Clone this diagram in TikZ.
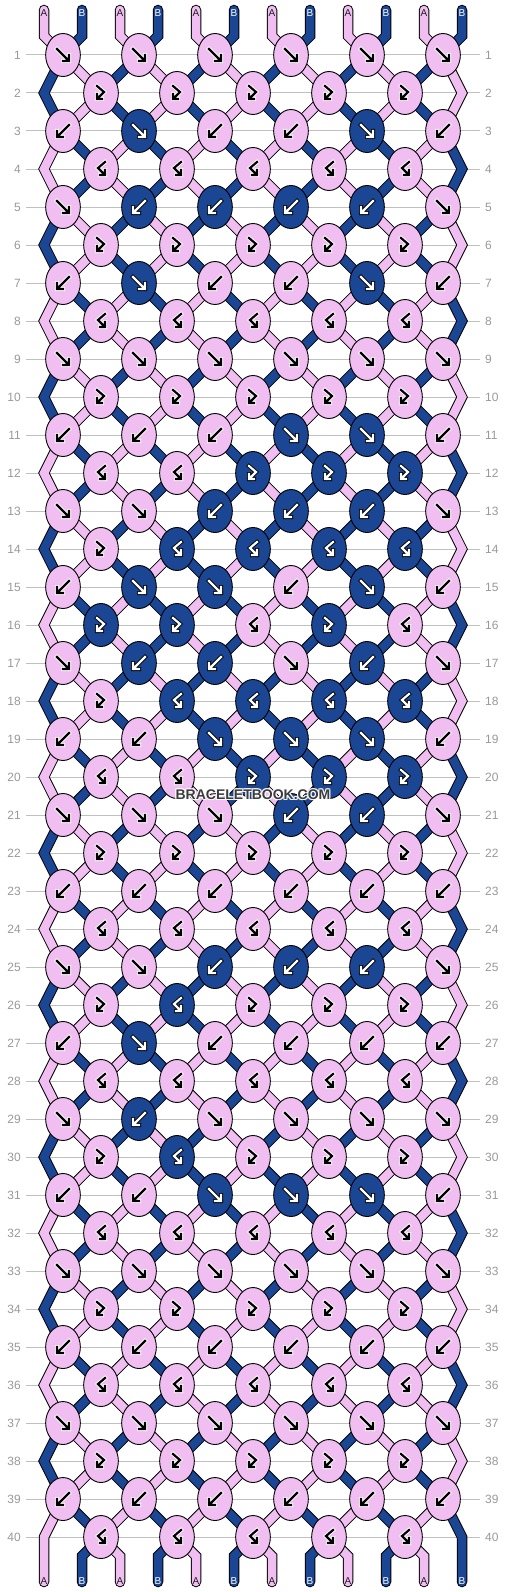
\documentclass[tikz,border=0pt]{standalone}
\usepackage{fontspec}
\setmainfont{Liberation Sans}
\usetikzlibrary{shapes.geometric}
\definecolor{pk}{HTML}{F0BEF0}
\definecolor{bl}{HTML}{1B4694}
\definecolor{gridc}{HTML}{C0C0C0}
\definecolor{numc}{HTML}{999999}
\definecolor{wmc}{HTML}{3C3C3C}
\definecolor{labc}{HTML}{202020}
\pgfdeclarelayer{gridlayer}
\pgfdeclarelayer{strlayer}
\pgfsetlayers{gridlayer,strlayer,main}
\tikzset{
  knot/.style={ellipse, draw=black, line width=0.9pt, minimum width=34.7pt, minimum height=43pt, inner sep=0pt},
  str/.style={line width=1pt, double distance=8.5pt, line join=miter, line cap=round},
  glyphhalo/.style={draw=#1, line width=4pt, line cap=rect, line join=miter},
  glyphmain/.style={draw=#1, line width=2.2pt, line cap=rect, line join=miter},
  rownum/.style={text=numc, font=\fontsize{12}{14}\selectfont, inner sep=0pt},
  taillabel/.style={font=\fontsize{10}{12}\selectfont, inner sep=0pt},
  wmark/.style={font=\bfseries\fontsize{14}{16}\selectfont, inner sep=0pt}
}
\def\parsecode#1#2\relax{\def\ktype{#1}\def\kcol{#2}}
\newcommand\gdraw[2]{%
  \if f#1\draw[#2] (-6,-6)--(5.5,5.5) (0,6)--(6,6)--(6,0);\fi
  \if b#1\draw[#2] (6,-6)--(-5.5,5.5) (0,6)--(-6,6)--(-6,0);\fi
  \if x#1\draw[#2] (-4,-7)--(3,-1)--(-3.5,5.5) (1,6)--(-4,6)--(-4,1);\fi
  \if y#1\draw[#2] (4,-7)--(-3,-1)--(3.5,5.5) (-1,6)--(4,6)--(4,1);\fi}
\begin{document}
\begin{tikzpicture}[x=1pt,y=-1pt]
\useasboundingbox (0,0) rectangle (506,1592);
\begin{pgfonlayer}{gridlayer}
\fill[white] (0,0) rectangle (506,1592);
\foreach \r in {1,...,40}{
  \pgfmathsetmacro\ry{55+38*(\r-1)}
  \draw[gridc, line width=1pt] (26,\ry) -- (480,\ry);
  \node[rownum, anchor=east] (ln-\r) at (21,\ry) {\r};
  \node[rownum, anchor=west] (rn-\r) at (485,\ry) {\r};
}
\end{pgfonlayer}
% knots
\foreach \r/\codes in {
1/{fp,fp,fp,fp,fp,fp},
2/{xp,xp,xp,xp,xp},
3/{bp,fd,bp,bp,fd,bp},
4/{yp,yp,yp,yp,yp},
5/{fp,bd,bd,bd,bd,fp},
6/{xp,xp,xp,xp,xp},
7/{bp,fd,bp,bp,fd,bp},
8/{yp,yp,yp,yp,yp},
9/{fp,fp,fp,fp,fp,fp},
10/{xp,xp,xp,xp,xp},
11/{bp,bp,bp,fd,fd,bp},
12/{yp,yp,xd,xd,xd},
13/{fp,fp,bd,bd,bd,fp},
14/{xp,yd,yd,yd,yd},
15/{bp,fd,fd,bp,fd,bp},
16/{xd,xd,yp,xd,yp},
17/{fp,bd,bd,fp,bd,fp},
18/{xp,yd,yd,yd,yd},
19/{bp,bp,fd,fd,fd,bp},
20/{yp,yp,xd,xd,xd},
21/{fp,fp,fp,bd,bd,fp},
22/{xp,xp,xp,xp,xp},
23/{bp,bp,bp,bp,bp,bp},
24/{yp,yp,yp,yp,yp},
25/{fp,fp,bd,bd,bd,fp},
26/{xp,yd,xp,xp,xp},
27/{bp,fd,bp,bp,bp,bp},
28/{yp,yp,yp,yp,yp},
29/{fp,bd,fp,fp,fp,fp},
30/{xp,yd,xp,xp,xp},
31/{bp,bp,fd,fd,fd,bp},
32/{yp,yp,yp,yp,yp},
33/{fp,fp,fp,fp,fp,fp},
34/{xp,xp,xp,xp,xp},
35/{bp,bp,bp,bp,bp,bp},
36/{yp,yp,yp,yp,yp},
37/{fp,fp,fp,fp,fp,fp},
38/{xp,xp,xp,xp,xp},
39/{bp,bp,bp,bp,bp,bp},
40/{yp,yp,yp,yp,yp}}{
  \pgfmathtruncatemacro\rodd{mod(\r,2)}
  \pgfmathsetmacro\ky{55+38*(\r-1)}
  \foreach \c [count=\j from 0] in \codes {
    \expandafter\parsecode\c\relax
    \ifnum\rodd=1 \pgfmathsetmacro\kx{63+76*\j}\else\pgfmathsetmacro\kx{101+76*\j}\fi
    \if p\kcol \def\kf{pk}\def\km{black}\def\kh{white}\else\def\kf{bl}\def\km{white}\def\kh{black}\fi
    \node[knot, fill=\kf] (k-\r-\j) at (\kx,\ky) {};
    \begin{scope}[shift={(k-\r-\j.center)}]
      \gdraw{\ktype}{glyphhalo=\kh}
      \gdraw{\ktype}{glyphmain=\km}
    \end{scope}
  }
}
% edge bend points
\foreach \r in {2,4,...,40}{
  \pgfmathsetmacro\ky{55+38*(\r-1)}
  \coordinate (e-\r-L) at (44,\ky);
  \coordinate (e-\r-R) at (462,\ky);
}
% tail points
\foreach \p in {0,...,11}{
  \pgfmathsetmacro\tx{44+38*\p}
  \coordinate (tt-\p) at (\tx,10);
  \coordinate (tb-\p) at (\tx,36);
  \coordinate (bt-\p) at (\tx,1582);
  \coordinate (bb-\p) at (\tx,1556);
}
\begin{pgfonlayer}{strlayer}
\foreach \r in {1,...,39}{
  \pgfmathtruncatemacro\rn{\r+1}
  \pgfmathtruncatemacro\kpar{(\r+1)/2}
  \pgfmathtruncatemacro\rodd{mod(\r,2)}
  \foreach \p in {1,...,10}{
    \ifnum\rodd=1
      \pgfmathtruncatemacro\ja{floor(\p/2)}\pgfmathtruncatemacro\jb{floor((\p-1)/2)}
    \else
      \pgfmathtruncatemacro\ja{floor((\p-1)/2)}\pgfmathtruncatemacro\jb{floor(\p/2)}
    \fi
    \pgfmathtruncatemacro\cc{mod(\p+\kpar,2)}
    \ifnum\cc=0 \def\sc{pk}\else\def\sc{bl}\fi
    \draw[str, double=\sc] (k-\r-\ja.center) -- (k-\rn-\jb.center);
  }
}
\foreach \r in {1,3,...,37}{
  \pgfmathtruncatemacro\rn{\r+1}
  \pgfmathtruncatemacro\rnn{\r+2}
  \pgfmathtruncatemacro\kpar{(\r+1)/2}
  \pgfmathtruncatemacro\cc{mod(\kpar,2)}
  \ifnum\cc=0 \def\sa{pk}\def\sb{bl}\else\def\sa{bl}\def\sb{pk}\fi
  \draw[str, double=\sa] (k-\r-0.center) -- (e-\rn-L) -- (k-\rnn-0.center);
  \draw[str, double=\sb] (k-\r-5.center) -- (e-\rn-R) -- (k-\rnn-5.center);
}
\draw[str, double=pk] (k-39-0.center) -- (e-40-L) -- (bt-0);
\draw[str, double=bl] (k-39-5.center) -- (e-40-R) -- (bt-11);
\foreach \p in {0,...,11}{
  \pgfmathtruncatemacro\ja{floor(\p/2)}
  \pgfmathtruncatemacro\cc{mod(\p,2)}
  \ifnum\cc=0 \def\sc{pk}\else\def\sc{bl}\fi
  \draw[str, double=\sc] (tt-\p) -- (tb-\p) -- (k-1-\ja.center);
}
\foreach \p in {1,...,10}{
  \pgfmathtruncatemacro\ja{floor((\p-1)/2)}
  \pgfmathtruncatemacro\cc{mod(\p,2)}
  \ifnum\cc=0 \def\sc{pk}\else\def\sc{bl}\fi
  \draw[str, double=\sc] (k-40-\ja.center) -- (bb-\p) -- (bt-\p);
}
\end{pgfonlayer}
% tail labels
\foreach \p in {0,...,11}{
  \pgfmathsetmacro\tx{44+38*\p}
  \pgfmathtruncatemacro\cc{mod(\p,2)}
  \ifnum\cc=0 \def\lt{A}\def\lc{labc}\else\def\lt{B}\def\lc{white}\fi
  \node[taillabel, text=\lc] (top-\p) at (\tx,13) {\lt};
  \node[taillabel, text=\lc] (bot-\p) at (\tx,1581.5) {\lt};
}
% watermark
\foreach \dx/\dy [count=\i] in {-1/0,1/0,0/-1,0/1,-1/-1,1/1,-1/1,1/-1}{
  \node[wmark, text=white, opacity=0.8] (wmh-\i) at (253+\dx,795+\dy) {BRACELETBOOK.COM};
}
\node[wmark, text=wmc] (wm) at (253,795) {BRACELETBOOK.COM};
\end{tikzpicture}
\end{document}
